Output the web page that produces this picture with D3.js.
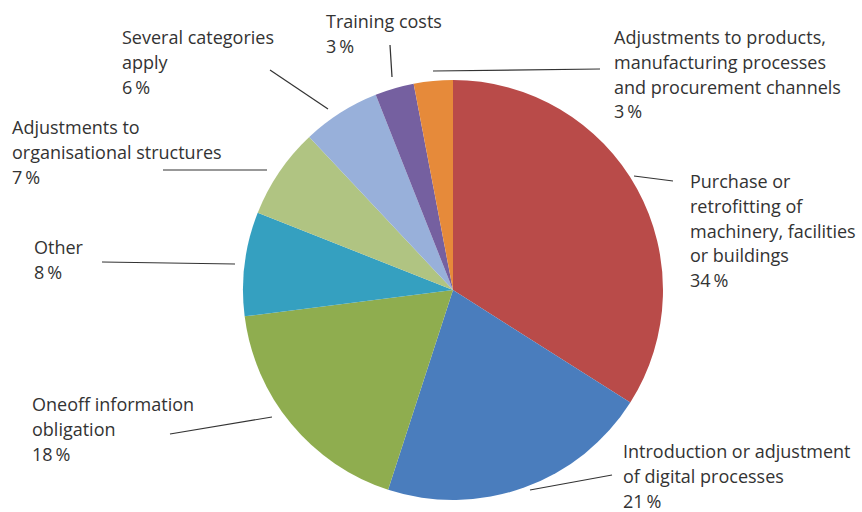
<!DOCTYPE html>
<html>
<head>
<meta charset="utf-8">
<script src="https://cdn.jsdelivr.net/npm/d3@7"></script>
<style>
  html, body { margin: 0; padding: 0; background: #fff; }
  svg { display: block; }
  text { font-family: "Open Sans", Lato, sans-serif; font-size: 18px; fill: #333; }
</style>
</head>
<body>
<svg id="chart" width="862" height="512"></svg>
<script>
// ---- data ----
const categories = [
  "Purchase or retrofitting of machinery, facilities or buildings",
  "Introduction or adjustment of digital processes",
  "Oneoff information obligation",
  "Other",
  "Adjustments to organisational structures",
  "Several categories apply",
  "Training costs",
  "Adjustments to products, manufacturing processes and procurement channels"
];
const values = [34, 21, 18, 8, 7, 6, 3, 3];
const labelLines = [
  ["Purchase or", "retrofitting of", "machinery, facilities", "or buildings"],
  ["Introduction or adjustment", "of digital processes"],
  ["Oneoff information", "obligation"],
  ["Other"],
  ["Adjustments to", "organisational structures"],
  ["Several categories", "apply"],
  ["Training costs"],
  ["Adjustments to products,", "manufacturing processes", "and procurement channels"]
];
const colors = ["#b94b49", "#4a7dbd", "#8fad4f", "#35a0c0", "#b0c482", "#98b0da", "#7560a0", "#e68a3a"];

// ---- layout (annotation placement) ----
const labelPos = [
  {x: 690, y: 188, lx1: 634, ly1: 176, lx2: 673, ly2: 181},
  {x: 623, y: 458, lx1: 612, ly1: 475, lx2: 530, ly2: 490},
  {x: 32,  y: 411, lx1: 272, ly1: 417, lx2: 170, ly2: 434},
  {x: 34,  y: 254, lx1: 235, ly1: 264, lx2: 102, ly2: 262},
  {x: 12,  y: 134, lx1: 267, ly1: 170, lx2: 163, ly2: 170},
  {x: 122, y: 44,  lx1: 328, ly1: 109, lx2: 270, ly2: 70},
  {x: 326, y: 28,  lx1: 392, ly1: 77,  lx2: 390, ly2: 45},
  {x: 614, y: 44,  lx1: 433, ly1: 71,  lx2: 600, ly2: 69}
];
const cx = 453, cy = 290, radius = 210, lineH = 24.8;

const svg = d3.select("#chart");
const data = categories.map((c, i) => ({cat: c, value: values[i], i}));
const pie = d3.pie().value(d => d.value).sort(null);
const arc = d3.arc().innerRadius(0).outerRadius(radius);

const g = svg.append("g").attr("transform", `translate(${cx},${cy})`);
g.selectAll("path").data(pie(data)).join("path")
  .attr("d", arc)
  .attr("fill", d => colors[d.data.i])
  .attr("stroke", "none");

// leader lines
svg.append("g").selectAll("line").data(labelPos).join("line")
  .attr("x1", d => d.lx1).attr("y1", d => d.ly1)
  .attr("x2", d => d.lx2).attr("y2", d => d.ly2)
  .attr("stroke", "#333").attr("stroke-width", 1.2);

// labels
const lg = svg.append("g");
data.forEach((d, i) => {
  const p = labelPos[i];
  const t = lg.append("text").attr("x", p.x).attr("y", p.y);
  const lines = labelLines[i].concat([d.value + "\u2009%"]);
  lines.forEach((s, k) => {
    t.append("tspan").attr("x", p.x).attr("y", p.y + k * lineH).text(s);
  });
});
</script>
</body>
</html>
